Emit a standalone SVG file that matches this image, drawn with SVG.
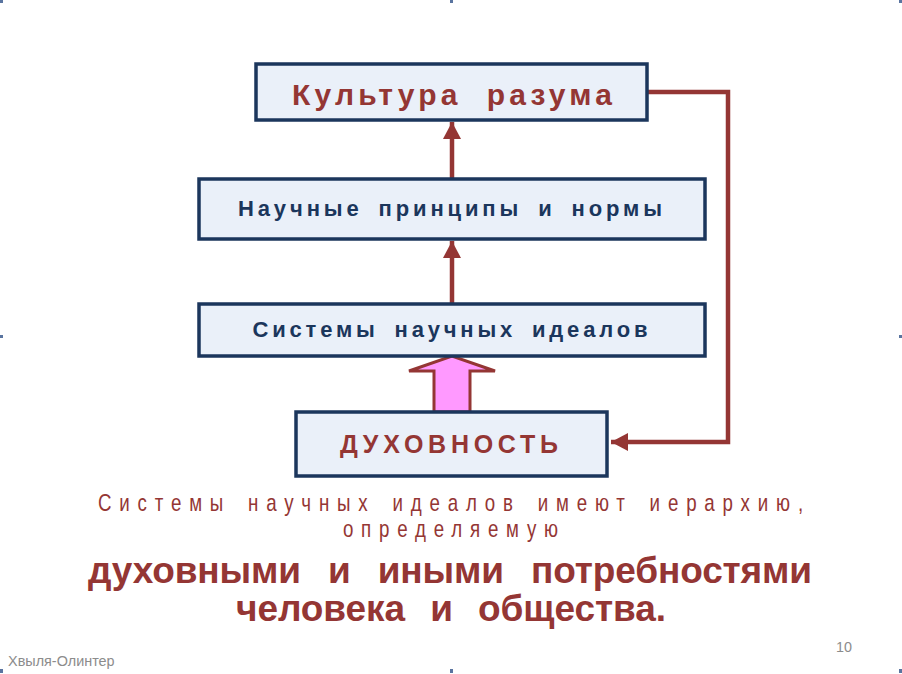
<svg xmlns="http://www.w3.org/2000/svg" width="902" height="674" viewBox="0 0 902 674">
<style>
.box{fill:#EAF0F9;stroke:#1B365C;stroke-width:3.5}
.red{fill:#943634;font-family:"Liberation Sans",Arial,sans-serif}
.navy{fill:#1B365C;font-family:"Liberation Sans",Arial,sans-serif;font-weight:bold}
.con{stroke:#943634;stroke-width:4.5;fill:none}
.h{fill:#5A74A0}
.foot{fill:#8C8C8C;font-family:"Liberation Sans",Arial,sans-serif}
</style>
<defs>
<marker id="ah" markerUnits="userSpaceOnUse" markerWidth="20" markerHeight="22" refX="17" refY="10" orient="auto">
<path d="M0,1 L17,10 L0,19 Z" fill="#943634"/>
</marker>
</defs>
<rect width="902" height="674" fill="#FFFFFF"/>
<g id="handles">
<rect class="h" x="0" y="0" width="3" height="3"/>
<rect class="h" x="450" y="0" width="3" height="3"/>
<rect class="h" x="899" y="0" width="3" height="3"/>
<rect class="h" x="0" y="335" width="3" height="3"/>
<rect class="h" x="899" y="335" width="3" height="3"/>
<rect class="h" x="0" y="669" width="3" height="4"/>
<rect class="h" x="450" y="669" width="3" height="4"/>
<rect class="h" x="899" y="669" width="3" height="4"/>
</g>
<g id="connectors">
<line class="con" x1="452" y1="178" x2="452" y2="122" marker-end="url(#ah)"/>
<line class="con" x1="452" y1="303" x2="452" y2="241" marker-end="url(#ah)"/>
<polyline class="con" points="648,92 728,92 728,442 611,442" marker-end="url(#ah)"/>
<path d="M434,412 L434,371 L409,371 L452,356 L495,371 L470,371 L470,412 Z" fill="#FF99FF" stroke="#943634" stroke-width="3"/>
</g>
<g id="node-kultura">
<rect class="box" x="256" y="64" width="391" height="56"/>
<text class="red" x="452" y="105" font-size="30" font-weight="bold" text-anchor="middle" textLength="320" lengthAdjust="spacing" xml:space="preserve">Культура  разума</text>
</g>
<g id="node-principy">
<rect class="box" x="199" y="179" width="506" height="60"/>
<text class="navy" x="450" y="216" font-size="22" text-anchor="middle" word-spacing="6" textLength="424" lengthAdjust="spacing">Научные принципы и нормы</text>
</g>
<g id="node-idealy">
<rect class="box" x="199" y="304" width="506" height="52"/>
<text class="navy" x="450" y="337" font-size="22" text-anchor="middle" word-spacing="6" textLength="395" lengthAdjust="spacing">Системы научных идеалов</text>
</g>
<g id="node-duhovnost">
<rect class="box" x="296" y="412" width="311" height="64"/>
<text class="red" x="449" y="453" font-size="25" font-weight="bold" text-anchor="middle" textLength="218" lengthAdjust="spacing">ДУХОВНОСТЬ</text>
</g>
<g id="caption">
<g transform="scale(0.78,1)">
<text class="red" x="577.6" y="511" font-size="24" text-anchor="middle" word-spacing="5" textLength="904" lengthAdjust="spacing">Системы научных идеалов имеют иерархию,</text>
<text class="red" x="577.6" y="537" font-size="24" text-anchor="middle" textLength="276" lengthAdjust="spacing">определяемую</text>
</g>
<text class="red" x="450" y="583" font-size="37" font-weight="bold" text-anchor="middle" word-spacing="17" textLength="724" lengthAdjust="spacing">духовными и иными потребностями</text>
<text class="red" x="451" y="621" font-size="37" font-weight="bold" text-anchor="middle" word-spacing="15" textLength="430" lengthAdjust="spacing">человека и общества.</text>
</g>
<g id="footer" transform="scale(0.82,1)">
<text class="foot" x="9.8" y="666" font-size="15" textLength="130" lengthAdjust="spacingAndGlyphs">Хвыля-Олинтер</text>
<text class="foot" x="1019.5" y="652" font-size="15" textLength="19.5" lengthAdjust="spacingAndGlyphs">10</text>
</g>
</svg>
